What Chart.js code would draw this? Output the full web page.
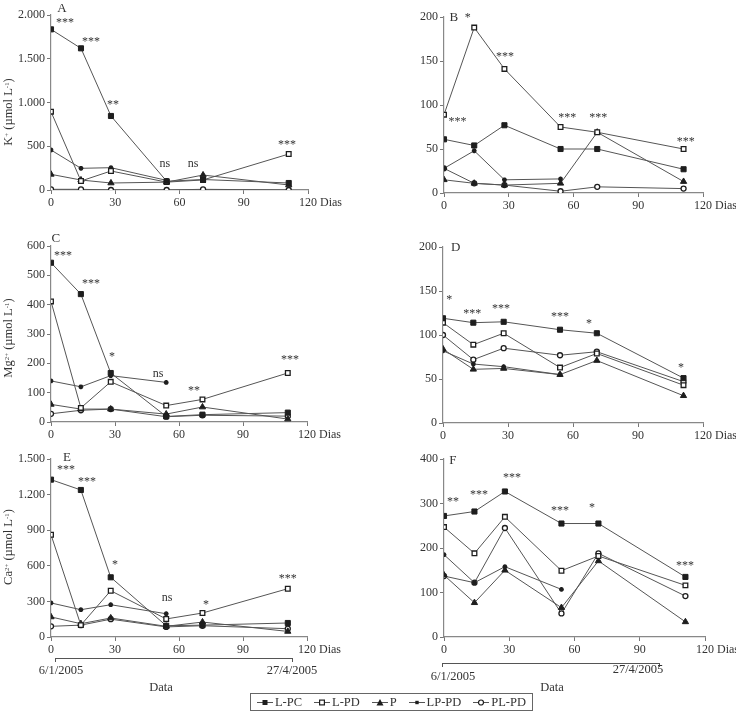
<!DOCTYPE html>
<html><head><meta charset="utf-8">
<script src="https://cdn.jsdelivr.net/npm/chart.js@4.4.0/dist/chart.umd.min.js"></script>
<style>
body{margin:0;width:736px;height:713px;overflow:hidden;background:#fff;position:relative;font-family:"Liberation Serif","DejaVu Serif",serif;color:#333}
canvas{position:absolute}
.yt{position:absolute;white-space:nowrap;font-size:12.5px;transform:translate(-50%,-50%) rotate(-90deg);line-height:1}
.lbl{position:absolute;white-space:nowrap;font-size:12.5px;transform:translate(-50%,-50%);line-height:1}
sup{font-size:0.55em;position:relative;top:-0.5em;vertical-align:baseline;line-height:0}
.br{position:absolute;height:4px;border-top:1px solid #555;border-left:1px solid #555;border-right:1px solid #555;box-sizing:border-box}
#legend{position:absolute;left:250px;top:693px;width:283px;height:18px;border:1px solid #666;box-sizing:border-box;display:flex;justify-content:space-around;align-items:center;font-size:12.5px;color:#333}
#legend span{display:flex;align-items:center;white-space:nowrap}
#legend svg{margin-right:2px}
</style>
</head><body>
<canvas id="cA"></canvas><canvas id="cB"></canvas><canvas id="cC"></canvas>
<canvas id="cD"></canvas><canvas id="cE"></canvas><canvas id="cF"></canvas>

<div class="yt" style="left:8px;top:112px">K<sup>+</sup> (µmol L<sup>-1</sup>)</div>
<div class="yt" style="left:8px;top:338px">Mg<sup>2+</sup> (µmol L<sup>-1</sup>)</div>
<div class="yt" style="left:8px;top:547px">Ca<sup>2+</sup> (µmol L<sup>-1</sup>)</div>

<div class="br" style="left:55px;top:658px;width:238px"></div>
<div class="lbl" style="left:61px;top:670px">6/1/2005</div>
<div class="lbl" style="left:292px;top:670px">27/4/2005</div>
<div class="lbl" style="left:161px;top:687px">Data</div>

<div class="br" style="left:442px;top:663px;width:218px"></div>
<div class="lbl" style="left:453px;top:676px">6/1/2005</div>
<div class="lbl" style="left:638px;top:669px">27/4/2005</div>
<div class="lbl" style="left:552px;top:687px">Data</div>

<div id="legend"></div>

<script>
// ---------- data ----------
const days = [0, 14, 28, 54, 71, 111];
const xTicks = [0, 30, 60, 90, 120];
const seriesNames = ['L-PC', 'L-PD', 'P', 'LP-PD', 'PL-PD'];

// Panel A: K+ (solution)
const kLPC  = [1836, 1619, 846, 100, 120, 80];
const kLPD  = [895, 103, 217, 90, 115, 411];
const kP    = [179, 114, 80, 90, 171, 57];
const kLPPD = [457, 248, 255, 110, null, null];
const kPLPD = [8, 8, 0, 0, 8, 0];
const kTicks = [0, 500, 1000, 1500, 2000];

// Panel B
const bLPC  = [61, 54, 77, 50, 50, 27];
const bLPD  = [89, 188, 141, 75, 69, 50];
const bP    = [15, 11, 9, 11, 69, 13];
const bLPPD = [28, 48, 15, 16, null, null];
const bPLPD = [28, 11, 9, 2, 7, 5];
const bTicks = [0, 50, 100, 150, 200];

// Panel C: Mg2+
const mgLPC  = [543, 436, 167, 19, 25, 32];
const mgLPD  = [411, 48, 137, 56, 77, 167];
const mgP    = [60, 44, 44, 27, 51, 10];
const mgLPPD = [140, 120, 158, 135, null, null];
const mgPLPD = [28, 40, 44, 18, 23, 20];
const mgTicks = [0, 100, 200, 300, 400, 500, 600];

// Panel D
const dLPC  = [119, 114, 115, 106, 102, 51];
const dLPD  = [114, 89, 102, 63, 79, 43];
const dP    = [84, 61, 62, 55, 71, 31];
const dLPPD = [82, 67, 64, 55, null, null];
const dPLPD = [100, 72, 85, 77, 81, 47];
const dTicks = [0, 50, 100, 150, 200];

// Panel E: Ca2+
const caLPC  = [1326, 1239, 503, 95, 100, 118];
const caLPD  = [862, 100, 390, 152, 202, 407];
const caP    = [169, 112, 160, 90, 126, 47];
const caLPPD = [287, 230, 272, 196, null, null];
const caPLPD = [90, 100, 150, 85, 95, 70];
const caTicks = [0, 300, 600, 900, 1200, 1500];

// Panel F
const fLPC  = [272, 282, 327, 255, 255, 135];
const fLPD  = [247, 188, 270, 149, 182, 116];
const fP    = [139, 77, 150, 66, 171, 34];
const fLPPD = [185, 122, 158, 107, null, null];
const fPLPD = [137, 122, 245, 53, 188, 92];
const fTicks = [0, 100, 200, 300, 400];

// significance labels and panel letters [day, value, text]
const annA = [[5.1,2091,'A'],[6.5,1954,'***'],[18.7,1726,'***'],[29,1006,'**'],[53.2,297,'ns'],[66.3,297,'ns'],[110.2,549,'***']];
const annB = [[4.6,201,'B'],[11,203,'*'],[6.2,85,'***'],[28.3,159,'***'],[57.1,88.7,'***'],[71.5,88.7,'***'],[112,61.5,'***']];
const annC = [[2.3,630,'C'],[5.6,579,'***'],[18.75,483,'***'],[28.6,234,'*'],[50.2,163,'ns'],[67,118,'**'],[112,224,'***']];
const annD = [[5.9,201,'D'],[2.9,144,'*'],[13.5,128,'***'],[26.8,133,'***'],[54,124.6,'***'],[67.4,117,'*'],[109.8,66.8,'*']];
const annE = [[7.5,1519,'E'],[7,1435,'***'],[16.9,1334,'***'],[30,635,'*'],[54.4,331,'ns'],[72.7,297,'*'],[111,517,'***']];
const annF = [[4.1,400,'F'],[4.1,312,'**'],[16.1,326,'***'],[31.3,366,'***'],[53.3,290,'***'],[68,297,'*'],[110.8,168,'***']];

// ---------- styles ----------
const FONT = '"Liberation Serif","DejaVu Serif",serif';
const LINE = '#555';
const MARK = '#1e1e1e';
const styles = [
  {pointStyle:'rect', pointRadius:3.6, pointBackgroundColor:MARK, pointBorderColor:MARK, pointBorderWidth:1},
  {pointStyle:'rect', pointRadius:3.3, pointBackgroundColor:'#fff', pointBorderColor:MARK, pointBorderWidth:1.3},
  {pointStyle:'triangle', pointRadius:3.6, pointBackgroundColor:MARK, pointBorderColor:MARK, pointBorderWidth:1},
  {pointStyle:'star', pointRadius:2.4, pointBackgroundColor:MARK, pointBorderColor:MARK, pointBorderWidth:1.5},
  {pointStyle:'circle', pointRadius:2.5, pointBackgroundColor:'#fff', pointBorderColor:MARK, pointBorderWidth:1.3}
];

function fmt(v){ return v >= 1000 ? Math.floor(v/1000) + '.' + String(v % 1000).padStart(3,'0') : String(v); }

const extras = {
  id:'extras',
  afterDraw(chart, args, opts){
    const ctx = chart.ctx, xs = chart.scales.x, ys = chart.scales.y;
    ctx.save();
    ctx.fillStyle = '#333';
    ctx.textAlign = 'center';
    ctx.textBaseline = 'alphabetic';
    (opts.ann || []).forEach(a => {
      const px = xs.getPixelForValue(a[0]), py = ys.getPixelForValue(a[1]);
      const off = a[2].indexOf('*') >= 0 ? 6.5 : (a[2] === 'ns' ? 3 : 4.5);
      ctx.font = (a[2].length === 1 && a[2] !== '*' ? '13px ' : '12px ') + FONT;
      ctx.fillText(a[2], px, py + off);
    });
    // "Dias" after the 120 tick label
    ctx.font = '12px ' + FONT;
    ctx.textAlign = 'left';
    ctx.textBaseline = 'top';
    const p120 = xs.getPixelForValue(120);
    const w = ctx.measureText('120').width;
    ctx.fillText('Dias', p120 + w/2 + ctx.measureText(' ').width, chart.chartArea.bottom + 7);
    ctx.restore();
  }
};

function makePanel(id, L, R, T, B, arrs, yTicks, ann){
  const cv = document.getElementById(id);
  const padL = 45, padT = 14, padR = 40, padB = 30;
  const W = (R - L) + padL + padR, H = (B - T) + padT + padB;
  cv.width = W; cv.height = H;
  cv.style.left = (L - padL) + 'px'; cv.style.top = (T - padT) + 'px';
  cv.style.width = W + 'px'; cv.style.height = H + 'px';
  const datasets = arrs.map((arr, i) => Object.assign({
    label: seriesNames[i],
    data: days.map((d, j) => ({x: d, y: arr[j]})).filter(p => p.y !== null),
    borderColor: LINE, borderWidth: 1, showLine: true, fill: false, tension: 0
  }, styles[i]));
  const axisCommon = {
    grid: {display: true, drawOnChartArea: false, drawTicks: true, tickLength: 4, color: '#777', lineWidth: 1},
    border: {display: true, color: '#888', width: 1.2},
    ticks: {color: '#333', font: {family: FONT, size: 12}, autoSkip: false, maxRotation: 0}
  };
  new Chart(cv, {
    type: 'scatter',
    data: {datasets},
    plugins: [extras],
    options: {
      responsive: false, animation: false, devicePixelRatio: 1,
      layout: {padding: {left: 0, top: padT, right: padR, bottom: 0}},
      plugins: {legend: {display: false}, tooltip: {enabled: false}, extras: {ann}},
      scales: {
        x: Object.assign({}, axisCommon, {
          type: 'linear', min: 0, max: 120,
          afterBuildTicks: s => { s.ticks = xTicks.map(v => ({value: v})); },
          afterFit: s => { s.height = padB; },
          ticks: Object.assign({}, axisCommon.ticks, {padding: 2, callback: v => String(v)})
        }),
        y: Object.assign({}, axisCommon, {
          type: 'linear', min: 0, max: yTicks[yTicks.length - 1],
          afterBuildTicks: s => { s.ticks = yTicks.map(v => ({value: v})); },
          afterFit: s => { s.width = padL; },
          ticks: Object.assign({}, axisCommon.ticks, {padding: 2, callback: v => fmt(v)})
        })
      }
    }
  });
}

makePanel('cA', 51, 308, 15, 190, [kLPC, kLPD, kP, kLPPD, kPLPD], kTicks, annA);
makePanel('cB', 444, 703, 17, 193, [bLPC, bLPD, bP, bLPPD, bPLPD], bTicks, annB);
makePanel('cC', 51, 307, 246, 422, [mgLPC, mgLPD, mgP, mgLPPD, mgPLPD], mgTicks, annC);
makePanel('cD', 443, 703, 247, 423, [dLPC, dLPD, dP, dLPPD, dPLPD], dTicks, annD);
makePanel('cE', 51, 307, 459, 637, [caLPC, caLPD, caP, caLPPD, caPLPD], caTicks, annE);
makePanel('cF', 444, 705, 459, 637, [fLPC, fLPD, fP, fLPPD, fPLPD], fTicks, annF);

// legend (HTML + small SVG symbols)
const symSvg = [
  '<rect x="5.5" y="2" width="5" height="5" fill="#1e1e1e"/>',
  '<rect x="5.6" y="2.1" width="4.8" height="4.8" fill="#fff" stroke="#1e1e1e" stroke-width="1.2"/>',
  '<polygon points="8,1 11.5,7.5 4.5,7.5" fill="#1e1e1e"/>',
  '<rect x="6.3" y="2.8" width="3.4" height="3.4" fill="#1e1e1e"/>',
  '<circle cx="8" cy="4.5" r="2.5" fill="#fff" stroke="#1e1e1e" stroke-width="1.2"/>'
];
document.getElementById('legend').innerHTML = seriesNames.map((n, i) =>
  '<span><svg width="16" height="9"><line x1="0" y1="4.5" x2="16" y2="4.5" stroke="#555" stroke-width="1"/>' + symSvg[i] + '</svg>' + n + '</span>'
).join('');
</script>
</body></html>
